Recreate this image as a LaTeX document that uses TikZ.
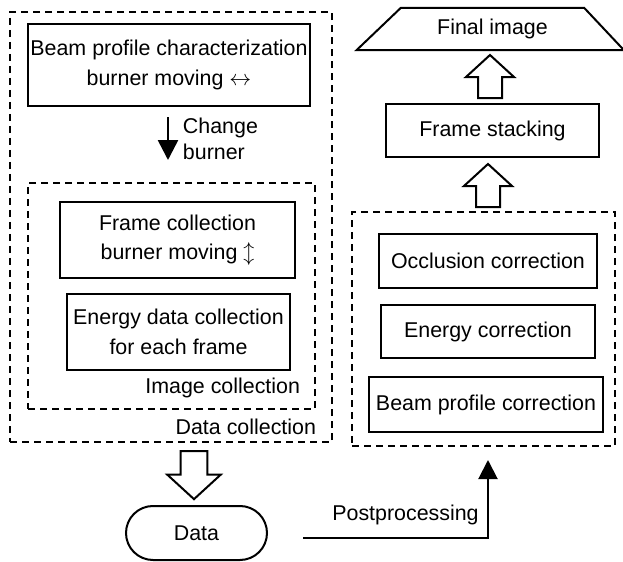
\documentclass[tikz,border=0pt]{standalone}
\usepackage{fontspec}
\setmainfont{Liberation Sans}
\usetikzlibrary{shapes.geometric,arrows.meta}

\begin{document}
\begin{tikzpicture}[x=0.5pt,y=-0.5pt,inner sep=0pt,outer sep=0pt,line width=1pt,
font=\fontsize{10.7pt}{14.7pt}\selectfont,
procbox/.style={draw,rectangle,align=center,line width=1.4pt},
groupbox/.style={draw,rectangle,dash pattern=on 3.5pt off 2.5pt,line width=1.2pt},
endbox/.style={draw,rectangle,rounded corners=13.5pt,line width=1pt},
grouplabel/.style={anchor=east},
hollowarrow/.pic={\draw[line width=1pt,fill=white] (-12,0) -- (-12,-21) -- (-24,-21) -- (0,-43) -- (24,-21) -- (12,-21) -- (12,0) -- cycle;}]
\useasboundingbox (0,0) rectangle (623,562);
% data collection
\draw (171,227) node[groupbox,minimum width=161pt,minimum height=215pt] (datacol) {};
\draw (171.5,296) node[groupbox,minimum width=143.5pt,minimum height=113pt] (imgcol) {};
\draw (169,65) node[procbox,minimum width=141pt,minimum height=41pt] (beamchar) {Beam profile characterization\\burner moving $\leftrightarrow$};
\draw (177.5,240) node[procbox,minimum width=117.5pt,minimum height=38pt] (framecol) {Frame collection\\burner moving $\updownarrow$};
\draw (178.5,332) node[procbox,minimum width=111.5pt,minimum height=38pt] (energycol) {Energy data collection\\for each frame};
\draw (300,388) node[grouplabel] (imglabel) {Image collection};
\draw (316,427) node[grouplabel] (datalabel) {Data collection};
\draw[line width=1.3pt,-{Triangle[length=10pt,width=10pt]}] (beamchar.south) ++(-1,11) -- ++(0,43) node[midway,right=7.5pt,align=left] (change) {Change\\[-1.7pt]burner};
\draw (196.5,533) node[endbox,minimum width=70.5pt,minimum height=27pt] (data) {Data};
\pic[rotate=180,scale=1.12] at ([shift={(-2.5,-55)}]data.north) {hollowarrow};
% postprocessing
\draw (483.5,329) node[groupbox,minimum width=131.5pt,minimum height=117pt] (corr) {};
\draw (488,261) node[procbox,minimum width=109pt,minimum height=27pt] (occl) {Occlusion correction};
\draw (488,331.5) node[procbox,minimum width=107pt,minimum height=26.5pt] (energycorr) {Energy correction};
\draw (486,404.5) node[procbox,minimum width=117pt,minimum height=27.5pt] (beamcorr) {Beam profile correction};
\draw (492.5,130.5) node[procbox,line width=1.2pt,minimum width=106.5pt,minimum height=26.5pt] (stack) {Frame stacking};
\draw (492.5,29) node[draw,trapezium,trapezium stretches=true,trapezium left angle=37,trapezium right angle=40,minimum width=134pt,minimum height=21pt] (final) {Final image};
\pic at ([shift={(-2.5,-6)}]stack.north) {hollowarrow};
\pic at ([shift={(4.5,-5)}]corr.north) {hollowarrow};
\coordinate (ppstart) at (303,538);
\draw[-{Triangle[length=9.5pt,width=9.5pt]}] (ppstart) -| ([shift={(4.5,14)}]corr.south) node[pos=0.277,above=6.5pt] (pplabel) {Postprocessing};
\end{tikzpicture}
\end{document}
